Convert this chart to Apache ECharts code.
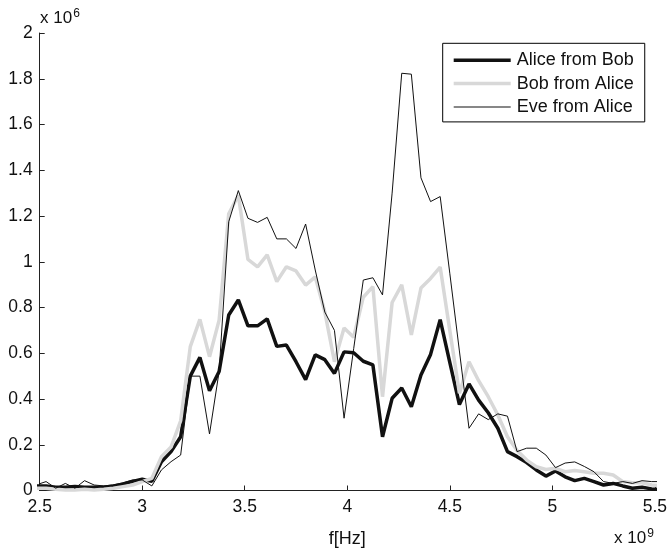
<!DOCTYPE html>
<html>
<head>
<meta charset="utf-8">
<script src="https://cdn.jsdelivr.net/npm/echarts@6/dist/echarts.min.js"></script>
<style>
html,body{margin:0;padding:0;background:#fff;}
#chart{width:670px;height:554px;}
</style>
</head>
<body>
<div id="chart"></div>
<script>
// frequency bins (x 10^9 Hz)
var freq = [2.484375,2.53125,2.578125,2.625,2.671875,2.71875,2.765625,2.8125,2.859375,2.90625,2.953125,3.0,
3.046875,3.09375,3.140625,3.1875,3.234375,3.28125,3.328125,3.375,3.421875,3.46875,3.515625,3.5625,
3.609375,3.65625,3.703125,3.75,3.796875,3.84375,3.890625,3.9375,3.984375,4.03125,4.078125,4.125,
4.171875,4.21875,4.265625,4.3125,4.359375,4.40625,4.453125,4.5,4.546875,4.59375,4.640625,4.6875,
4.734375,4.78125,4.828125,4.875,4.921875,4.96875,5.015625,5.0625,5.109375,5.15625,5.203125,5.25,
5.296875,5.34375,5.390625,5.4375,5.484375,5.53125];

// values (x 10^6)
var aliceFromBob = [0.02,0.02,0.014,0.014,0.017,0.014,0.014,0.014,0.02,0.028,0.04,0.049,
0.04,0.126,0.17,0.235,0.50,0.582,0.436,0.52,0.767,0.833,0.72,0.72,
0.75,0.63,0.636,0.563,0.485,0.593,0.572,0.512,0.606,0.602,0.565,0.549,
0.235,0.403,0.448,0.366,0.505,0.595,0.747,0.56,0.376,0.466,0.395,0.34,
0.272,0.17,0.148,0.122,0.09,0.063,0.085,0.06,0.043,0.053,0.039,0.024,
0.031,0.02,0.01,0.014,0.007,0.005];

var bobFromAlice = [0.01,0.01,0.005,0.002,0.002,0.005,0.002,0.005,0.01,0.017,0.024,0.039,
0.053,0.148,0.19,0.305,0.629,0.748,0.585,0.745,1.21,1.29,1.01,0.978,
1.03,0.913,0.978,0.96,0.898,0.934,0.78,0.563,0.71,0.67,0.845,0.891,
0.41,0.822,0.899,0.68,0.885,0.927,0.977,0.70,0.425,0.563,0.48,0.41,
0.33,0.235,0.175,0.133,0.104,0.092,0.097,0.082,0.087,0.082,0.075,0.075,
0.068,0.039,0.034,0.034,0.024,0.02];

var eveFromAlice = [0.025,0.039,0.01,0.031,0.01,0.043,0.024,0.02,0.024,0.034,0.046,0.046,
0.02,0.09,0.126,0.155,0.50,0.50,0.247,0.52,1.175,1.311,1.19,1.172,
1.194,1.10,1.10,1.058,1.165,0.964,0.78,0.70,0.316,0.62,0.92,0.93,
0.855,1.30,1.824,1.82,1.367,1.263,1.285,0.95,0.61,0.272,0.335,0.31,
0.335,0.325,0.17,0.185,0.185,0.155,0.10,0.12,0.125,0.105,0.082,0.039,
0.031,0.039,0.031,0.043,0.039,0.039];

var seriesNames = ['Alice from Bob','Bob from Alice','Eve from Alice'];
var xTickLabels = ['2.5','3','3.5','4','4.5','5','5.5'];

function pairs(xs, ys){ return xs.map(function(x,i){ return [x, ys[i]]; }); }

var FONT = '"Liberation Sans", Arial, Helvetica, sans-serif';
var THICK_ICON = 'path://M0,0L57,0L57,3.5L0,3.5Z';
var THIN_ICON = 'path://M0,0L57,0L57,1L0,1Z';
var chart = echarts.init(document.getElementById('chart'), null, {renderer:'canvas'});
chart.setOption({
  animation:false,
  backgroundColor:'#ffffff',
  textStyle:{fontFamily:FONT},
  grid:{left:39.7, right:12.7, top:33, bottom:63.5, containLabel:false},
  legend:{
    orient:'vertical', left:442.7, top:43.3,
    padding:[8,11,6,11],
    itemGap:5.3, itemWidth:57, itemHeight:18,
    symbolKeepAspect:true,
    borderColor:'#000', borderWidth:1, backgroundColor:'#fff',
    textStyle:{fontFamily:FONT, fontSize:18, color:'#111', padding:[0,0,0,1]},
    data:[
      {name:seriesNames[0], icon:THICK_ICON, itemStyle:{color:'#111', borderWidth:0}},
      {name:seriesNames[1], icon:THICK_ICON, itemStyle:{color:'#d8d8d8', borderWidth:0}},
      {name:seriesNames[2], icon:THIN_ICON, itemStyle:{color:'#111', borderWidth:0}}
    ]
  },
  xAxis:{
    type:'value', min:2.5, max:5.5, interval:0.5,
    name:'f[Hz]', nameLocation:'middle', nameGap:40,
    nameTextStyle:{fontFamily:FONT, fontSize:18, color:'#111'},
    axisLine:{show:true, onZero:false, lineStyle:{color:'#222', width:1}},
    axisTick:{show:true, inside:true, length:5, lineStyle:{color:'#222'}},
    axisLabel:{fontFamily:FONT, fontSize:17.5, color:'#111', margin:8,
      formatter:function(v){ var i = Math.round((v-2.5)/0.5); return xTickLabels[i] || ''; }},
    splitLine:{show:false}
  },
  yAxis:{
    type:'value', min:0, max:2, interval:0.2,
    axisLine:{show:true, onZero:false, lineStyle:{color:'#222', width:1}},
    axisTick:{show:true, inside:true, length:5, lineStyle:{color:'#222'}},
    axisLabel:{fontFamily:FONT, fontSize:17.5, color:'#111', margin:7,
      formatter:function(v){ return String(Math.round(v*10)/10); }},
    splitLine:{show:false}
  },
  series:[
    {name:seriesNames[0], type:'line', data:pairs(freq, aliceFromBob), showSymbol:false, symbol:'none',
     lineStyle:{color:'#111', width:3.5}, itemStyle:{color:'#111'}, clip:true},
    {name:seriesNames[1], type:'line', data:pairs(freq, bobFromAlice), showSymbol:false, symbol:'none',
     lineStyle:{color:'#d8d8d8', width:3.5}, itemStyle:{color:'#d8d8d8'}, clip:true},
    {name:seriesNames[2], type:'line', data:pairs(freq, eveFromAlice), showSymbol:false, symbol:'none',
     lineStyle:{color:'#111', width:1}, itemStyle:{color:'#111'}, clip:true}
  ],
  graphic:[
    {type:'text', left:40, top:8, style:{
      text:'x 10{sup|6}', font:'17px '+FONT, fill:'#111',
      rich:{sup:{fontSize:12, fontFamily:FONT, fill:'#111', verticalAlign:'top', padding:[0,0,8,1]}}
    }},
    {type:'text', left:614, top:528, style:{
      text:'x 10{sup|9}', font:'17px '+FONT, fill:'#111',
      rich:{sup:{fontSize:12, fontFamily:FONT, fill:'#111', verticalAlign:'top', padding:[0,0,8,1]}}
    }}
  ]
});
</script>
</body>
</html>
